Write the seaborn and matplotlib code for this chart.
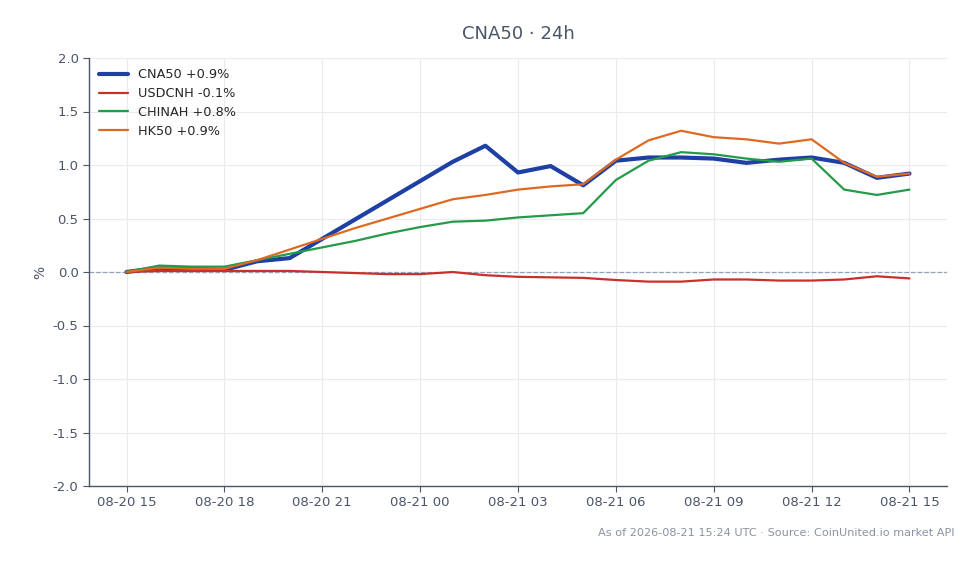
import pandas as pd
import numpy as np
import matplotlib
matplotlib.use("Agg")
import matplotlib.pyplot as plt
import matplotlib.dates as mdates
import seaborn as sns

# hourly points, 08-20 15:00 -> 08-21 15:00
hours = pd.date_range("2026-08-20 15:00", "2026-08-21 15:00", freq="h")

cna50 = [0.00, 0.04, 0.03, 0.02, 0.10, 0.13, 0.31, 0.49, 0.67, 0.85, 1.03, 1.18, 0.93,
         0.99, 0.81, 1.04, 1.07, 1.07, 1.06, 1.02, 1.05, 1.07, 1.02, 0.88, 0.92]
usdcnh = [0.00, 0.01, 0.01, 0.01, 0.01, 0.01, 0.00, -0.01, -0.02, -0.02, 0.00, -0.03, -0.045,
          -0.05, -0.055, -0.075, -0.09, -0.09, -0.07, -0.07, -0.08, -0.08, -0.07, -0.04, -0.06]
chinah = [0.00, 0.06, 0.05, 0.05, 0.11, 0.17, 0.23, 0.29, 0.36, 0.42, 0.47, 0.48, 0.51,
          0.53, 0.55, 0.86, 1.04, 1.12, 1.10, 1.06, 1.03, 1.06, 0.77, 0.72, 0.77]
hk50 = [0.00, 0.04, 0.03, 0.03, 0.11, 0.21, 0.31, 0.41, 0.50, 0.59, 0.68, 0.72, 0.77,
        0.80, 0.82, 1.05, 1.23, 1.32, 1.26, 1.24, 1.20, 1.24, 1.02, 0.89, 0.92]

series = {
    "CNA50 +0.9%": (cna50, "#1e3fa3", 3.0),
    "USDCNH -0.1%": (usdcnh, "#c9302c", 1.6),
    "CHINAH +0.8%": (chinah, "#239b48", 1.6),
    "HK50 +0.9%": (hk50, "#de6a22", 1.6),
}

sns.set_style("whitegrid")
plt.rcParams["font.family"] = ["DejaVu Sans"]

fig = plt.figure(figsize=(9.79, 5.64), dpi=100)
ax = fig.add_axes([89 / 979, 1 - 486 / 564, (947 - 89) / 979, (486 - 58) / 564])

ax.axhline(0, color="#94a0b4", linestyle="--", linewidth=0.9, zorder=1.5)

for name, (vals, color, lw) in series.items():
    df = pd.DataFrame({"time": hours, "pct": vals})
    sns.lineplot(data=df, x="time", y="pct", ax=ax, color=color, linewidth=lw, label=name,
                 zorder=3)

pad = pd.Timedelta(minutes=69)
ax.set_xlim(hours[0] - pad, hours[-1] + pad)
ax.set_ylim(-2.0, 2.0)
ax.set_yticks(np.arange(-2.0, 2.01, 0.5))
ax.yaxis.set_major_formatter(matplotlib.ticker.FormatStrFormatter("%.1f"))
ax.xaxis.set_major_locator(mdates.HourLocator(byhour=[0, 3, 6, 9, 12, 15, 18, 21]))
ax.xaxis.set_major_formatter(mdates.DateFormatter("%m-%d %H"))

ax.grid(True, color="#e8ebef", linewidth=0.8)
for side in ["top", "right"]:
    ax.spines[side].set_visible(False)
for side in ["left", "bottom"]:
    ax.spines[side].set_color("#4a5568")
    ax.spines[side].set_linewidth(1.0)
ax.tick_params(axis="both", colors="#4a5568", labelsize=9.5, length=4, width=0.8,
               bottom=True, left=True)
ax.set_xlabel("")
ax.set_ylabel("%", color="#4a5568", fontsize=10)
ax.set_title("CNA50 · 24h", color="#4a5568", fontsize=13, pad=14)

leg = ax.legend(loc="upper left", frameon=False, fontsize=9.3, handlelength=2.2,
                borderaxespad=0.4, labelspacing=0.45)

fig.text(955 / 979, 1 - 533 / 564, "As of 2026-08-21 15:24 UTC · Source: CoinUnited.io market API",
         ha="right", va="center", fontsize=8.1, color="#8a93a3")

fig.savefig("out.png", dpi=100)
